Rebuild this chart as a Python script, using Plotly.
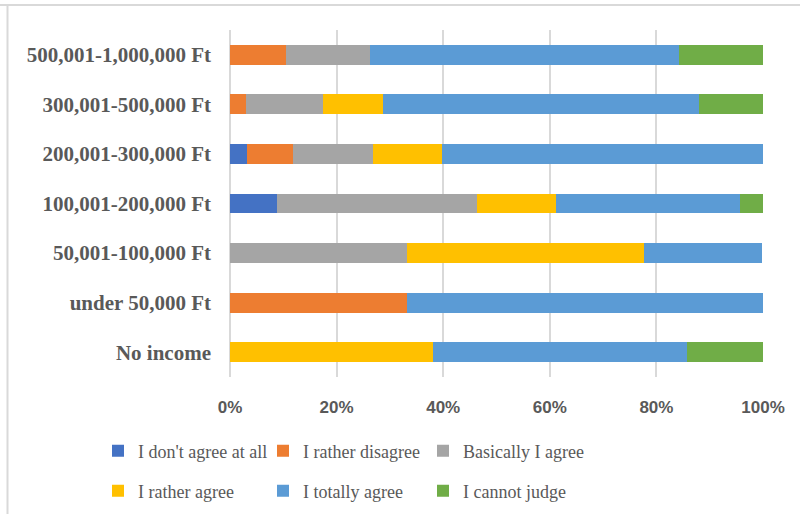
import plotly.graph_objects as go

# Income groups, listed top to bottom as displayed
categories = [
    "500,001-1,000,000 Ft",
    "300,001-500,000 Ft",
    "200,001-300,000 Ft",
    "100,001-200,000 Ft",
    "50,001-100,000 Ft",
    "under 50,000 Ft",
    "No income",
]

# Share of answers (%) per income group
dont_agree_at_all = [0.0, 0.0, 3.2, 8.8, 0.0, 0.0, 0.0]
rather_disagree = [10.5, 3.0, 8.7, 0.0, 0.0, 33.3, 0.0]
basically_agree = [15.8, 14.5, 15.0, 37.6, 33.3, 0.0, 0.0]
rather_agree = [0.0, 11.2, 12.9, 14.7, 44.4, 0.0, 38.1]
totally_agree = [57.9, 59.3, 60.2, 34.6, 22.2, 66.7, 47.6]
cannot_judge = [15.8, 12.0, 0.0, 4.3, 0.0, 0.0, 14.3]

x_ticks = [0, 20, 40, 60, 80, 100]
x_tick_labels = ["0%", "20%", "40%", "60%", "80%", "100%"]

series_names = ["I don't agree at all", "I rather disagree", "Basically I agree",
                "I rather agree", "I totally agree", "I cannot judge"]
series_values = [dont_agree_at_all, rather_disagree, basically_agree,
                 rather_agree, totally_agree, cannot_judge]
series_colors = ["#4472C4", "#ED7D31", "#A5A5A5", "#FFC000", "#5B9BD5", "#70AD47"]

TEXT = "#595959"
GRID = "#D9D9D9"

# Legend grid: 3 columns x 2 rows, each entry in its own legend box
legend_cols = [98, 263, 423]
legend_rows = [451, 491]
legend_ids = ["legend", "legend2", "legend3", "legend4", "legend5", "legend6"]

fig = go.Figure()
for i, (name, vals, color) in enumerate(zip(series_names, series_values, series_colors)):
    fig.add_trace(go.Bar(
        y=categories, x=vals, name=name, orientation="h",
        marker=dict(color=color, line=dict(width=0)),
        legend=legend_ids[i],
    ))

legend_layout = {}
for i, lid in enumerate(legend_ids):
    legend_layout[lid] = dict(
        orientation="h",
        xref="container", yref="container",
        xanchor="left", yanchor="middle",
        x=legend_cols[i % 3] / 800, y=1 - legend_rows[i // 3] / 514,
        font=dict(family="Liberation Serif", size=18, color=TEXT),
        itemwidth=30,
        bgcolor="rgba(0,0,0,0)",
    )

fig.update_layout(
    width=800, height=514,
    margin=dict(l=230, r=37, t=30, b=137),
    paper_bgcolor="white", plot_bgcolor="white",
    barmode="stack", bargap=0.6,
    showlegend=True,
    xaxis=dict(
        range=[0, 100], tickvals=x_ticks, ticktext=x_tick_labels,
        showgrid=True, gridcolor=GRID, gridwidth=2,
        zeroline=True, zerolinecolor=GRID, zerolinewidth=2,
        showline=False, ticks="", ticklabelstandoff=18,
        tickfont=dict(family="Liberation Sans", size=17, color=TEXT, weight="bold"),
    ),
    yaxis=dict(
        categoryorder="array", categoryarray=categories, autorange="reversed",
        showgrid=False, zeroline=False, showline=False, ticks="",
        ticklabelstandoff=18,
        tickfont=dict(family="Liberation Serif", size=21, color=TEXT, weight="bold"),
    ),
    **legend_layout,
)

# Outer chart frame: top and left edges
fig.add_shape(type="line", xref="paper", yref="paper",
              x0=-290 / 533, x1=1.2, y0=1 + 25 / 347, y1=1 + 25 / 347,
              line=dict(color=GRID, width=2))
fig.add_shape(type="line", xref="paper", yref="paper",
              x0=-222.5 / 533, x1=-222.5 / 533, y0=-2, y1=1 + 25 / 347,
              line=dict(color=GRID, width=2))

fig.write_html("out.html")
